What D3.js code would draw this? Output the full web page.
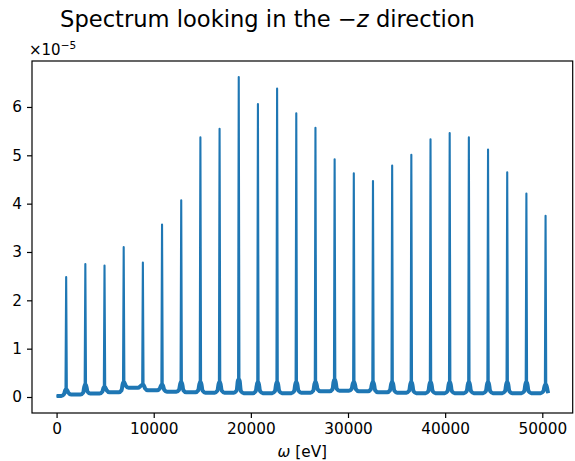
<!DOCTYPE html>
<html>
<head>
<meta charset="utf-8">
<script src="https://cdn.jsdelivr.net/npm/d3@7"></script>
<style>
  body { margin: 0; background: #fff; }
  svg text { font-family: "DejaVu Sans", sans-serif; fill: #000; }
</style>
</head>
<body>
<svg id="chart" width="575" height="461"></svg>
<script>
// harmonic peak positions (eV) and peak heights (x 1e-5)
const peakOmega = [987, 2961, 4935, 6909, 8883, 10857, 12831, 14805, 16779, 18753,
                   20727, 22701, 24675, 26649, 28623, 30597, 32571, 34545, 36519, 38493,
                   40467, 42441, 44415, 46389, 48363, 50337]
const peakHeight = [2.48, 2.75, 2.72, 3.10, 2.78, 3.57, 4.07, 5.37, 5.55, 6.62,
                    6.06, 6.38, 5.87, 5.57, 4.92, 4.63, 4.47, 4.79, 5.01, 5.33,
                    5.46, 5.37, 5.12, 4.65, 4.21, 3.75]
// level of the noisy floor in each gap (before first peak ... after last peak)
const gapLevel = [0.02, 0.05, 0.07, 0.10, 0.19, 0.14, 0.11, 0.10, 0.09, 0.09,
                  0.08, 0.08, 0.08, 0.09, 0.12, 0.13, 0.12, 0.10, 0.09, 0.08,
                  0.08, 0.08, 0.08, 0.08, 0.08, 0.08, 0.08]
// height of the lorentzian wings right beside each peak
const wingLevel = [0.15, 0.25, 0.20, 0.30, 0.25, 0.25, 0.30, 0.30, 0.30, 0.35,
                   0.30, 0.30, 0.30, 0.30, 0.35, 0.30, 0.30, 0.30, 0.30, 0.30,
                   0.30, 0.30, 0.30, 0.30, 0.30, 0.25]
const omegaStart = 0
const omegaEnd = 50600
const xTicks = [0, 10000, 20000, 30000, 40000, 50000]
const yTicks = [0, 1, 2, 3, 4, 5, 6]
const title = 'Spectrum looking in the '
const yExponent = -5

const svg = d3.select('#chart')
const mLeft = 32, mRight = 572.7, mTop = 61, mBottom = 413

// build the spectrum points from the arrays above
let spectrum = [{w: omegaStart, v: gapLevel[0], peak: false}]
peakOmega.forEach(function (w, i) {
    spectrum.push({w: w - 500, v: gapLevel[i], peak: false})
    spectrum.push({w: w - 220, v: gapLevel[i] + 0.04, peak: false})
    spectrum.push({w: w - 70, v: wingLevel[i], peak: false})
    spectrum.push({w: w, v: peakHeight[i], peak: true})
    spectrum.push({w: w + 70, v: wingLevel[i], peak: false})
    spectrum.push({w: w + 220, v: gapLevel[i + 1] + 0.04, peak: false})
    spectrum.push({w: w + 500, v: gapLevel[i + 1], peak: false})
})
spectrum = spectrum.filter(d => d.w <= omegaEnd)
spectrum.push({w: omegaEnd, v: gapLevel[gapLevel.length - 1], peak: false})

const xPad = 0.05 * (omegaEnd - omegaStart)
const yExt = [0, d3.max(peakHeight)]
const yPad = 0.05 * (yExt[1] - yExt[0])

const xScale = d3.scaleLinear()
    .domain([omegaStart - xPad, omegaEnd + xPad])
    .range([mLeft, mRight])
const yScale = d3.scaleLinear()
    .domain([yExt[0] - yPad, yExt[1] + yPad])
    .range([mBottom, mTop])

const line = d3.line()
    .x(d => xScale(d.w))
    .y(d => yScale(d.v))
    .curve(d3.curveMonotoneX)

// noisy floor drawn as a thick band
svg.append('path')
    .datum(spectrum.filter(d => !d.peak))
    .attr('d', line)
    .attr('fill', 'none')
    .attr('stroke', '#1f77b4')
    .attr('stroke-width', 4)
    .attr('stroke-linejoin', 'round')

svg.append('path')
    .datum(spectrum)
    .attr('d', line.curve(d3.curveLinear))
    .attr('fill', 'none')
    .attr('stroke', '#1f77b4')
    .attr('stroke-width', 2.1)
    .attr('stroke-linejoin', 'round')

//axes
const xAxis = d3.axisBottom(xScale).tickValues(xTicks).tickSize(5).tickPadding(5).tickFormat(d3.format('d'))
const yAxis = d3.axisLeft(yScale).tickValues(yTicks).tickSize(5).tickPadding(5).tickFormat(d3.format('d'))

svg.append('g')
    .attr('transform', `translate(0, ${mBottom})`)
    .call(xAxis)
    .call(g => g.select('.domain').remove())
svg.append('g')
    .attr('transform', `translate(${mLeft}, 0)`)
    .call(yAxis)
    .call(g => g.select('.domain').remove())
svg.selectAll('.tick line').attr('stroke', '#000').attr('stroke-width', 1.2)
svg.selectAll('.tick text')
    .style('font-size', '15.3px')
    .style('font-family', '"DejaVu Sans", sans-serif')

//frame
svg.append('rect')
    .attr('x', mLeft)
    .attr('y', mTop)
    .attr('width', mRight - mLeft)
    .attr('height', mBottom - mTop)
    .attr('fill', 'none')
    .attr('stroke', '#000')
    .attr('stroke-width', 1.2)

//offset text
const off = svg.append('text')
    .attr('x', 29)
    .attr('y', 55)
    .style('font-size', '15px')
off.append('tspan').text('×10')
off.append('tspan')
    .attr('dy', -6)
    .style('font-size', '10.5px')
    .text('−' + Math.abs(yExponent))

//x label
const xl = svg.append('text')
    .attr('x', (mLeft + mRight) / 2)
    .attr('y', 457)
    .attr('text-anchor', 'middle')
    .style('font-size', '15.3px')
xl.append('tspan').style('font-style', 'oblique').text('ω')
xl.append('tspan').text(' [eV]')

//title
const tt = svg.append('text')
    .attr('x', 267.5)
    .attr('y', 27)
    .attr('text-anchor', 'middle')
    .style('font-size', '22.6px')
tt.append('tspan').text(title + '−')
tt.append('tspan').style('font-style', 'oblique').text('z')
tt.append('tspan').text(' direction')
</script>
</body>
</html>
